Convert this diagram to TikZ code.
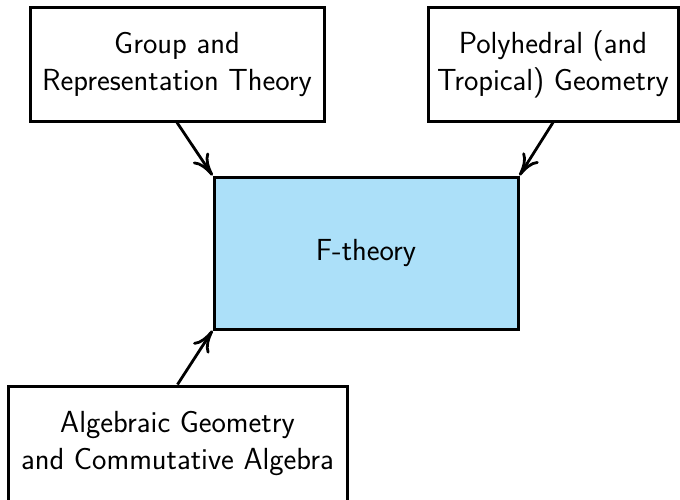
\documentclass[tikz,border=0pt]{standalone}
\usepackage{fontspec}
\usetikzlibrary{arrows.meta}
\definecolor{ftblue}{RGB}{172,224,249}
\tikzset{
  box/.style={draw=black, line width=3pt, align=center, inner sep=0pt,
    font=\sffamily\fontsize{30.5}{37}\selectfont},
  link/.style={line width=2.8pt, -{To[length=22pt,width=19pt]}}
}
\begin{document}
\begin{tikzpicture}[x=1pt,y=-1pt]
\useasboundingbox (0,0) rectangle (680,499);
\clip (0,0) rectangle (680,499);
\node[box, minimum width=294pt, minimum height=114pt] (grp) at (177,64) {Group and\\Representation Theory};
\node[box, minimum width=250pt, minimum height=114pt] (poly) at (553,64) {Polyhedral (and\\Tropical) Geometry};
\node[box, fill=ftblue, minimum width=304pt, minimum height=152pt] (ft) at (366,253) {F-theory};
\node[box, minimum width=339pt, minimum height=116pt] (alg) at (177.5,444) {Algebraic Geometry\\and Commutative Algebra};
\draw[link] (grp.south) -- (ft.north west);
\draw[link] (poly.south) -- (ft.north east);
\draw[link] (alg.north) -- (ft.south west);
\end{tikzpicture}
\end{document}
